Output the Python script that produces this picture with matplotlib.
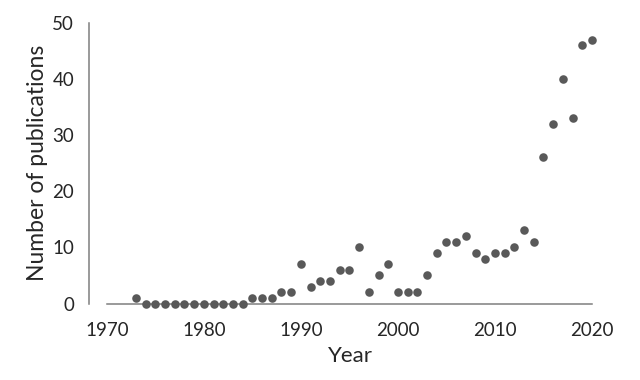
import matplotlib
matplotlib.use("Agg")
import matplotlib.pyplot as plt

# publications per year
years = list(range(1973, 2021))
counts = [1, 0, 0, 0, 0, 0, 0, 0, 0, 0, 0, 0,
          1, 1, 1, 2, 2, 7, 3, 4, 4, 6, 6, 10,
          2, 5, 7, 2, 2, 2, 5, 9, 11, 11, 12, 9,
          8, 9, 9, 10, 13, 11, 26, 32, 40, 33, 46, 47]
xticks = [1970, 1980, 1990, 2000, 2010, 2020]
yticks = [0, 10, 20, 30, 40, 50]

plt.rcParams['font.family'] = ['Lato', 'DejaVu Sans']
textcol = '#262626'
axcol = '#7f7f7f'

fig = plt.figure(figsize=(6.4, 3.8), dpi=100)
ax = fig.add_axes([0.1397, 0.2013, 0.8155, 0.739])

ax.scatter(years, counts, s=38, color='#595959', zorder=3, clip_on=False,
           linewidths=0)

ax.set_xlim(1968.2, 2022)
ax.set_ylim(0, 50)
ax.set_xticks(xticks)
ax.set_yticks(yticks)
ax.tick_params(length=0, labelsize=13.5, labelcolor=textcol)
ax.tick_params(axis='x', pad=13)
ax.tick_params(axis='y', pad=11)

for s in ['top', 'right']:
    ax.spines[s].set_visible(False)
ax.spines['left'].set_color(axcol)
ax.spines['bottom'].set_color(axcol)
ax.spines['left'].set_linewidth(1.1)
ax.spines['bottom'].set_linewidth(1.1)
ax.spines['bottom'].set_bounds(1970, 2020)

ax.set_xlabel('Year', fontsize=16, color=textcol, labelpad=5)
ax.set_ylabel('Number of publications', fontsize=16.5, color=textcol,
              labelpad=3)

fig.savefig('out.png', dpi=100)
